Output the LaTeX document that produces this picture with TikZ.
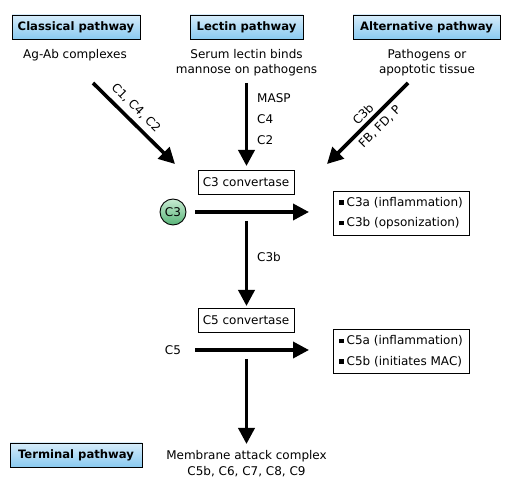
\documentclass[tikz,border=0pt]{standalone}
\usepackage{fontspec}
\setmainfont{DejaVu Sans}
\usetikzlibrary{arrows.meta}
\definecolor{hdrtop}{RGB}{214,236,250}
\definecolor{hdrbot}{RGB}{138,202,240}
\definecolor{grtop}{RGB}{200,235,210}
\definecolor{grbot}{RGB}{88,180,120}
\begin{document}
\begin{tikzpicture}[x=1pt,y=-1pt,
  font=\fontsize{12}{15}\selectfont,
  hdr/.style={draw, line width=0.9pt, top color=hdrtop, bottom color=hdrbot,
    font=\fontsize{11.6}{14}\selectfont\bfseries, minimum height=24pt, inner xsep=3pt},
  plain/.style={align=center, inner sep=0pt},
  box/.style={draw, line width=0.9pt, minimum height=24pt, minimum width=96pt, inner sep=2pt},
  listbox/.style={draw, line width=0.9pt, align=left, inner xsep=5pt, inner ysep=4pt,
    minimum width=136pt, minimum height=44pt, font=\fontsize{12}{20.5}\selectfont},
  bigarrow/.style={line width=3.6pt, -{Triangle[length=16pt,width=16pt]}, shorten >=0pt},
  lbl/.style={inner sep=0pt},
]
\useasboundingbox (0,0) rectangle (512,494);
\newcommand{\blt}{\rule[1.2pt]{4.5pt}{4.5pt}\hspace{3pt}}
% headers
\node[hdr, minimum width=128pt] (hc) at (76,27) {Classical pathway};
\node[hdr, minimum width=113pt] (hl) at (246.5,27) {Lectin pathway};
\node[hdr, minimum width=147pt] (ha) at (426.5,27) {Alternative pathway};
\node[hdr, minimum width=132pt] (ht) at (76,455) {Terminal pathway};
% sources
\node[plain] (sc) at (75,55) {Ag-Ab complexes};
\node[plain] (sl) at (246.5,62.5) {Serum lectin binds\\mannose on pathogens};
\node[plain] (sa) at (427,62.5) {Pathogens or\\apoptotic tissue};
% coordinates
\coordinate (c1) at (93,83);
\coordinate (c2) at (175,164);
\coordinate (l1) at (246.5,83);
\coordinate (l2) at (246.5,166);
\coordinate (a1) at (408,83);
\coordinate (a2) at (327,164);
% C3 convertase
\node[box] (c3c) at (246,182) {C3 convertase};
\node[circle, draw, line width=0.9pt, minimum size=26pt, inner sep=0pt,
  top color=grtop, bottom color=grbot] (c3) at (173,212) {C3};
\coordinate (h1s) at (195,212);
\coordinate (h1e) at (309,212);
\node[listbox] (c3ab) at (401,213) {\blt C3a (inflammation)\\\blt C3b (opsonization)};
\coordinate (v1s) at (246.5,221);
\coordinate (v1e) at (246.5,306);
\node[box] (c5c) at (246,320) {C5 convertase};
\node[lbl] (c5) at (173,350) {C5};
\coordinate (h2s) at (195,350);
\coordinate (h2e) at (309,350);
\node[listbox] (c5ab) at (401,351) {\blt C5a (inflammation)\\\blt C5b (initiates MAC)};
\coordinate (v2s) at (246.5,359);
\coordinate (v2e) at (246.5,444);
\node[plain, font=\fontsize{12}{16}\selectfont] (mac) at (246.5,464) {Membrane attack complex\\C5b, C6, C7, C8, C9};
% arrows
\draw[bigarrow] (c1) -- (c2);
\draw[bigarrow] (l1) -- (l2);
\draw[bigarrow] (a1) -- (a2);
\draw[bigarrow] (h1s) -- (h1e);
\draw[bigarrow] (v1s) -- (v1e);
\draw[bigarrow] (h2s) -- (h2e);
\draw[bigarrow] (v2s) -- (v2e);
% labels
\node[lbl, anchor=west] (masp) at (257,98) {MASP};
\node[lbl, anchor=west] (lc4) at (257,119) {C4};
\node[lbl, anchor=west] (lc2) at (257,140) {C2};
\node[lbl, anchor=west] (lc3b) at (257,257) {C3b};
\node[lbl, rotate=-45] (clab) at (136,108) {C1, C4, C2};
\node[lbl, rotate=45] (alab1) at (363,114) {C3b};
\node[lbl, rotate=45] (alab2) at (380,127) {FB, FD, P};
\end{tikzpicture}
\end{document}
